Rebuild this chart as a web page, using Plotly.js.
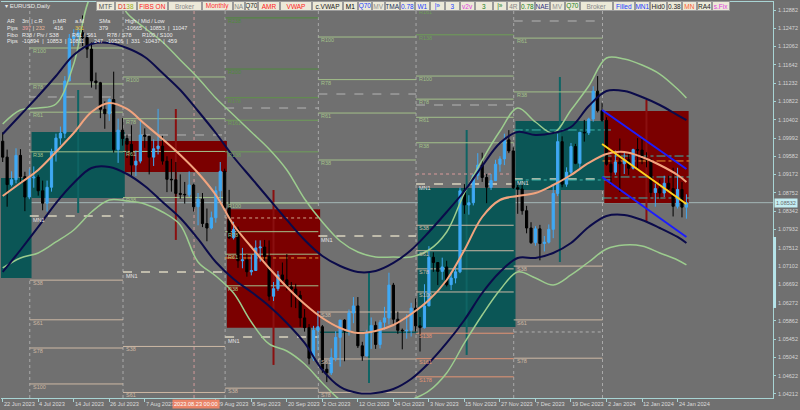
<!DOCTYPE html>
<html><head><meta charset="utf-8">
<script src="https://cdn.plot.ly/plotly-3.0.1.min.js"></script>
<style>html,body{margin:0;padding:0;background:#707070;}#chart{width:800px;height:410px;}</style>
</head><body><div id="chart"></div>
<script>
// ---------------- DATA ----------------
const dates = [
'2023-06-22','2023-06-23','2023-06-26','2023-06-27','2023-06-28','2023-06-29','2023-06-30',
'2023-07-03','2023-07-04','2023-07-05','2023-07-06','2023-07-07','2023-07-10','2023-07-11','2023-07-12','2023-07-13','2023-07-14','2023-07-17','2023-07-18','2023-07-19','2023-07-20','2023-07-21','2023-07-24','2023-07-25','2023-07-26','2023-07-27','2023-07-28','2023-07-31',
'2023-08-01','2023-08-02','2023-08-03','2023-08-04','2023-08-07','2023-08-08','2023-08-09','2023-08-10','2023-08-11','2023-08-14','2023-08-15','2023-08-16','2023-08-17','2023-08-18','2023-08-21','2023-08-22','2023-08-23','2023-08-24','2023-08-25','2023-08-28','2023-08-29','2023-08-30','2023-08-31',
'2023-09-01','2023-09-04','2023-09-05','2023-09-06','2023-09-07','2023-09-08','2023-09-11','2023-09-12','2023-09-13','2023-09-14','2023-09-15','2023-09-18','2023-09-19','2023-09-20','2023-09-21','2023-09-22','2023-09-25','2023-09-26','2023-09-27','2023-09-28','2023-09-29',
'2023-10-02','2023-10-03','2023-10-04','2023-10-05','2023-10-06','2023-10-09','2023-10-10','2023-10-11','2023-10-12','2023-10-13','2023-10-16','2023-10-17','2023-10-18','2023-10-19','2023-10-20','2023-10-23','2023-10-24','2023-10-25','2023-10-26','2023-10-27','2023-10-30','2023-10-31',
'2023-11-01','2023-11-02','2023-11-03','2023-11-06','2023-11-07','2023-11-08','2023-11-09','2023-11-10','2023-11-13','2023-11-14','2023-11-15','2023-11-16','2023-11-17','2023-11-20','2023-11-21','2023-11-22','2023-11-23','2023-11-24','2023-11-27','2023-11-28','2023-11-29','2023-11-30',
'2023-12-01','2023-12-04','2023-12-05','2023-12-06','2023-12-07','2023-12-08','2023-12-11','2023-12-12','2023-12-13','2023-12-14','2023-12-15','2023-12-18','2023-12-19','2023-12-20','2023-12-21','2023-12-22','2023-12-26','2023-12-27','2023-12-28','2023-12-29',
'2024-01-02','2024-01-03','2024-01-04','2024-01-05','2024-01-08','2024-01-09','2024-01-10','2024-01-11','2024-01-12','2024-01-15','2024-01-16','2024-01-17','2024-01-18','2024-01-19','2024-01-22','2024-01-23','2024-01-24','2024-01-25','2024-01-26'];

const open = [
1.0992,1.0956,1.0894,1.0905,1.0960,1.0912,1.0866,
1.0909,1.0911,1.0880,1.0852,1.0888,1.0968,1.0999,1.1010,1.1128,1.1224,1.1229,1.1237,1.1226,1.1200,1.1128,1.1124,1.1064,1.1054,1.1086,1.0973,1.1017,
1.0998,1.0985,1.0938,1.0947,1.1006,1.1003,1.0956,1.0975,1.0981,1.0947,1.0906,1.0905,1.0874,1.0872,1.0871,1.0893,1.0844,1.0861,1.0806,1.0796,1.0819,1.0880,1.0924,
1.0842,1.0774,1.0793,1.0722,1.0724,1.0697,1.0700,1.0751,1.0753,1.0732,1.0642,1.0659,1.0690,1.0679,1.0663,1.0658,1.0644,1.0593,1.0571,1.0502,1.0565,
1.0573,1.0477,1.0469,1.0503,1.0549,1.0588,1.0563,1.0604,1.0620,1.0530,1.0507,1.0561,1.0576,1.0533,1.0583,1.0593,1.0667,1.0590,1.0565,1.0564,1.0565,1.0615,
1.0575,1.0571,1.0620,1.0730,1.0718,1.0698,1.0708,1.0668,1.0683,1.0697,1.0880,1.0848,1.0853,1.0915,1.0938,1.0910,1.0888,1.0903,1.0940,1.0952,1.0995,1.0970,
1.0887,1.0884,1.0835,1.0796,1.0763,1.0794,1.0761,1.0764,1.0793,1.0874,1.0991,1.0895,1.0922,1.0980,1.0942,1.1012,1.1011,1.1042,1.1105,1.1061,
1.1039,1.0940,1.0922,1.0945,1.0941,1.0950,1.0931,1.0973,1.0972,1.0951,1.0950,1.0876,1.0885,1.0875,1.0897,1.0885,1.0845,1.0883,1.0843];
const high = [
1.1012,1.0973,1.0924,1.0976,1.0974,1.0923,1.0930,
1.0935,1.0916,1.0903,1.0903,1.0975,1.1009,1.1025,1.1139,1.1234,1.1245,1.1249,1.1276,1.1232,1.1215,1.1147,1.1126,1.1082,1.1089,1.1149,1.1043,1.1044,
1.1007,1.1028,1.0971,1.1042,1.1021,1.1004,1.0996,1.1065,1.1004,1.0958,1.0952,1.0945,1.0917,1.0900,1.0924,1.0896,1.0875,1.0875,1.0840,1.0833,1.0890,1.0945,1.0930,
1.0882,1.0810,1.0799,1.0751,1.0737,1.0735,1.0768,1.0768,1.0769,1.0768,1.0674,1.0699,1.0718,1.0737,1.0674,1.0670,1.0654,1.0613,1.0579,1.0575,1.0609,
1.0577,1.0490,1.0524,1.0563,1.0588,1.0590,1.0612,1.0640,1.0640,1.0539,1.0566,1.0594,1.0585,1.0588,1.0618,1.0695,1.0672,1.0607,1.0569,1.0601,1.0627,1.0637,
1.0595,1.0669,1.0755,1.0741,1.0718,1.0729,1.0722,1.0696,1.0712,1.0887,1.0895,1.0870,1.0917,1.0965,1.0966,1.0918,1.0918,1.0950,1.0958,1.1009,1.1017,1.0978,
1.0897,1.0894,1.0846,1.0809,1.0800,1.0803,1.0778,1.0804,1.0895,1.1009,1.1003,1.0933,1.0988,1.0986,1.1013,1.1040,1.1045,1.1116,1.1139,1.1079,
1.1046,1.0955,1.0971,1.0998,1.0969,1.0967,1.0975,1.0999,1.0998,1.0967,1.0953,1.0896,1.0905,1.0914,1.0914,1.0932,1.0932,1.0900,1.0872];
const low = [
1.0945,1.0844,1.0890,1.0897,1.0897,1.0834,1.0861,
1.0887,1.0869,1.0836,1.0833,1.0878,1.0946,1.0984,1.0999,1.1127,1.1207,1.1209,1.1207,1.1180,1.1113,1.1109,1.1044,1.1020,1.1038,1.0966,1.0943,1.0982,
1.0954,1.0912,1.0913,1.0942,1.0977,1.0917,1.0936,1.0962,1.0939,1.0877,1.0878,1.0867,1.0862,1.0851,1.0866,1.0833,1.0802,1.0798,1.0766,1.0793,1.0808,1.0853,1.0833,
1.0771,1.0770,1.0706,1.0705,1.0686,1.0689,1.0699,1.0720,1.0715,1.0632,1.0631,1.0654,1.0674,1.0655,1.0617,1.0615,1.0573,1.0562,1.0488,1.0496,1.0520,
1.0469,1.0448,1.0464,1.0495,1.0483,1.0495,1.0553,1.0581,1.0525,1.0496,1.0506,1.0523,1.0523,1.0524,1.0566,1.0578,1.0576,1.0557,1.0522,1.0546,1.0551,1.0562,
1.0517,1.0569,1.0620,1.0697,1.0667,1.0679,1.0664,1.0656,1.0671,1.0694,1.0828,1.0826,1.0847,1.0905,1.0900,1.0852,1.0882,1.0902,1.0923,1.0938,1.0965,1.0884,
1.0828,1.0826,1.0784,1.0760,1.0756,1.0723,1.0743,1.0761,1.0773,1.0868,1.0888,1.0889,1.0915,1.0940,1.0932,1.0991,1.1006,1.1036,1.1057,1.1036,
1.0937,1.0893,1.0916,1.0877,1.0918,1.0916,1.0928,1.0929,1.0940,1.0933,1.0866,1.0844,1.0862,1.0866,1.0878,1.0822,1.0840,1.0820,1.0817];
const close = [
1.0956,1.0894,1.0905,1.0960,1.0912,1.0866,1.0909,
1.0911,1.0880,1.0852,1.0888,1.0968,1.0999,1.1010,1.1128,1.1224,1.1229,1.1237,1.1226,1.1200,1.1128,1.1124,1.1064,1.1054,1.1086,1.0973,1.1017,1.0998,
1.0985,1.0938,1.0947,1.1006,1.1003,1.0956,1.0975,1.0981,1.0947,1.0906,1.0905,1.0874,1.0872,1.0871,1.0893,1.0844,1.0861,1.0806,1.0796,1.0819,1.0880,1.0924,1.0842,
1.0774,1.0793,1.0722,1.0724,1.0697,1.0700,1.0751,1.0753,1.0732,1.0642,1.0659,1.0690,1.0679,1.0663,1.0658,1.0644,1.0593,1.0571,1.0502,1.0565,1.0573,
1.0477,1.0469,1.0503,1.0549,1.0588,1.0563,1.0604,1.0620,1.0530,1.0507,1.0561,1.0576,1.0533,1.0583,1.0593,1.0667,1.0590,1.0565,1.0564,1.0565,1.0615,1.0575,
1.0571,1.0620,1.0730,1.0718,1.0698,1.0708,1.0668,1.0683,1.0697,1.0880,1.0848,1.0853,1.0915,1.0938,1.0910,1.0888,1.0903,1.0940,1.0952,1.0995,1.0970,1.0887,
1.0884,1.0835,1.0796,1.0763,1.0794,1.0761,1.0764,1.0793,1.0874,1.0991,1.0895,1.0922,1.0980,1.0942,1.1012,1.1011,1.1042,1.1105,1.1061,1.1039,
1.0940,1.0922,1.0945,1.0941,1.0950,1.0931,1.0973,1.0972,1.0951,1.0950,1.0876,1.0885,1.0875,1.0897,1.0885,1.0845,1.0883,1.0843,1.08532];

const bandDates = ['2023-06-22','2023-06-28','2023-07-04','2023-07-10','2023-07-14','2023-07-20','2023-07-26','2023-08-01','2023-08-07','2023-08-11','2023-08-17','2023-08-23','2023-08-29','2023-09-04','2023-09-08','2023-09-14','2023-09-20','2023-09-26','2023-10-02','2023-10-06','2023-10-12','2023-10-18','2023-10-24','2023-10-30','2023-11-03','2023-11-09','2023-11-15','2023-11-21','2023-11-27','2023-12-01','2023-12-07','2023-12-13','2023-12-19','2023-12-26','2024-01-02','2024-01-08','2024-01-12','2024-01-18','2024-01-24','2024-01-26'];
const navyUpper = [1.10082,1.10511,1.10940,1.11392,1.11866,1.12114,1.12137,1.12024,1.11821,1.11460,1.11076,1.10602,1.10105,1.09563,1.09089,1.08615,1.08141,1.07689,1.07328,1.07102,1.06967,1.06989,1.07170,1.07463,1.07870,1.08321,1.08795,1.09360,1.09879,1.10128,1.10060,1.10105,1.10240,1.10715,1.11053,1.11053,1.10918,1.10737,1.10511,1.10398];
const navyLower = [1.06967,1.07463,1.07983,1.08524,1.08976,1.09315,1.09337,1.09179,1.08908,1.08547,1.08186,1.07712,1.07192,1.06809,1.06515,1.06199,1.05815,1.05364,1.04754,1.04370,1.04235,1.04235,1.04325,1.04551,1.04912,1.05364,1.05883,1.06492,1.06967,1.07283,1.07283,1.07396,1.07621,1.07983,1.08231,1.08254,1.08141,1.07960,1.07757,1.07621];
const maLine = [1.08683,1.08976,1.09270,1.09676,1.10105,1.10579,1.10782,1.10647,1.10308,1.09969,1.09608,1.09202,1.08705,1.08028,1.07531,1.07057,1.06628,1.06244,1.05928,1.05702,1.05589,1.05635,1.05770,1.06018,1.06334,1.06786,1.07463,1.08208,1.08592,1.08683,1.08750,1.08931,1.09157,1.09428,1.09631,1.09676,1.09563,1.09382,1.09157,1.08999];
const greenUpper = [1.10308,1.10624,1.10669,1.10760,1.11663,1.13221,1.13514,1.12814,1.12476,1.12160,1.11753,1.11347,1.10895,1.10511,1.10128,1.09744,1.09270,1.08615,1.08096,1.07667,1.07418,1.07305,1.07305,1.07305,1.07463,1.07870,1.08750,1.09495,1.10150,1.10669,1.10353,1.10105,1.10624,1.11166,1.11798,1.11776,1.11640,1.11437,1.11098,1.10895];
const greenLower = [1.07057,1.07283,1.07396,1.07644,1.07915,1.08321,1.08592,1.08570,1.08502,1.08321,1.08028,1.07192,1.06876,1.06492,1.05838,1.05341,1.05183,1.04889,1.04460,1.04077,1.03851,1.03806,1.03919,1.04077,1.04280,1.04686,1.05364,1.05996,1.06560,1.06967,1.06831,1.06673,1.06899,1.07192,1.07486,1.07576,1.07554,1.07396,1.07238,1.07125];

// monthly candles (boxes)
const mFirst = ['2023-06-01','2023-07-03','2023-08-01','2023-09-01','2023-10-02','2023-11-01','2023-12-01','2024-01-02'];
const mLast  = ['2023-06-30','2023-07-31','2023-08-31','2023-09-29','2023-10-31','2023-11-30','2023-12-29','2024-01-26'];
const mOpen  = [1.06831,1.08637,1.09924,1.08382,1.05590,1.05725,1.08818,1.10602];
const mClose = [1.09089,1.10127,1.09224,1.05709,1.05625,1.08863,1.10376,1.08524];
const mHigh  = [1.10120,1.11076,1.10646,1.08818,1.06944,1.10173,1.11369,1.10850];
const mLow   = [1.06620,1.08300,1.07690,1.04868,1.04460,1.05093,1.07192,1.08095];

// monthly fibonacci levels
const pivStart = ['2023-07-03','2023-08-01','2023-09-01','2023-10-02','2023-11-01','2023-12-01'];
const pivEnd   = ['2023-08-01','2023-09-01','2023-10-02','2023-11-01','2023-12-01','2024-01-02'];
const pivBase  = [1.08231,1.06967,1.05499,1.07779,1.08953,1.09066];
const pivRange = [0.03793,0.04403,0.03025,0.04493,0.02438,0.05148];
const fibRatios = [0.382,0.618,0.786,1,1.382,1.618,1.786,2,2.382];
const fibTags = ['38','61','78','100','138','161','178','200','238'];
// extra monthly dashed / dotted levels
const dashLevel = [1.10918,1.10060,1.10669,1.10985,1.10737,1.12634];
const dotStart = ['2023-11-01','2023-09-01','2023-09-01','2023-12-01'];
const dotEnd   = ['2023-12-01','2023-10-02','2023-10-02','2024-01-02'];
const dotLevel = [1.09179,1.08186,1.07283,1.05612];
const dotColor = ['#d99a9a','#cfa58a','#e0902e','#b0b0b0'];

// regression channel (January)
const chanDates = ['2023-12-29','2024-01-26'];
const chanUpper = [1.10624,1.09292];
const chanMid   = [1.09857,1.08502];
const chanLower = [1.09112,1.07757];

// weekly dash-dot levels
const wkStart = ['2023-12-01','2023-12-01','2024-01-02','2024-01-02','2024-01-02','2024-01-02'];
const wkEnd   = ['2024-01-02','2024-01-02','2024-01-26','2024-01-26','2024-01-26','2024-01-26'];
const wkLevel = [1.10173,1.09044,1.09585,1.09473,1.09112,1.08637];
const wkKind  = ['t','t','t','o','t','t'];

const bidPrice = 1.08532;
const yTicks = [1.12882,1.12472,1.12062,1.11642,1.11232,1.10822,1.10402,1.09992,1.09582,1.09172,1.08752,1.08342,1.07932,1.07512,1.07102,1.06692,1.06272,1.05862,1.05452,1.05042,1.04622,1.04212];
const xLabelDates = ['2023-06-22','2023-07-04','2023-07-14','2023-07-26','2023-08-07','2023-08-29','2023-09-08','2023-09-20','2023-10-02','2023-10-12','2023-10-24','2023-11-03','2023-11-15','2023-11-27','2023-12-07','2023-12-19','2024-01-02','2024-01-12','2024-01-24'];
const xLabelText = ['22 Jun 2023','4 Jul 2023','14 Jul 2023','26 Jul 2023','7 Aug 2023','29 Aug 2023','8 Sep 2023','20 Sep 2023','2 Oct 2023','12 Oct 2023','24 Oct 2023','3 Nov 2023','15 Nov 2023','27 Nov 2023','7 Dec 2023','19 Dec 2023','2 Jan 2024','12 Jan 2024','24 Jan 2024'];
const cursorDate = '2023-08-23';
const cursorText = '2023.08.23 00:00';

// toolbar buttons
const btnText = ['MTF','D1<span style="color:#9ab020">38</span>','FIBS ON','Broker','Monthly','NA','Q70','AMR','VWAP','c.VWAP','M1','Q70','MV','TMA','0.78','W1','|»','3','v2v','3','|»','4R','0.78','NAE','MV','Q70','Broker','Filled','MN1','Hid0','0.38','MN','RA4','s.Fix'];
const btnColor = ['#505050','#e02020','#ff2020','#888888','#ff3030','#888888','#202020','#ff2020','#ff2020','#202020','#000000','#2040ff','#909090','#203060','#2040ff','#2040ff','#2040ff','#2040ff','#e040e0','#208020','#208020','#888888','#208020','#303080','#909090','#208020','#888888','#2040ff','#2040ff','#202020','#202020','#ff6030','#202020','#e040e0'];
const btnEdges = [96,115,137,168,202,233,245,258,280,312,343,358,372,385,400,415,430,445,460,475,493,507,520,535,550,565,580,613,635,650,667,682,697,712,730];

// ---------------- DRAW ----------------
const L = 1, T = 2, PW = 772, PH = 396;
const pxX = x => (x - L) / PW;
const pxY = y => (T + PH - y) / PH;
const ix = d => dates.indexOf(d);
const Y0 = 1.04121, Y1 = 1.13063;
const FONT = '"Liberation Sans", Arial, sans-serif';

const traces = [];
function curve(y, color, width){
  traces.push({type:'scatter', mode:'lines', x:bandDates, y:y, hoverinfo:'skip',
    line:{color:color, width:width, shape:'spline', smoothing:1}});
}
curve(greenUpper, '#9ccc8e', 1.5);
curve(greenLower, '#9ccc8e', 1.5);
curve(navyUpper, '#0b0b4a', 2);
curve(navyLower, '#0b0b4a', 2);
curve(maLine, '#f2a47e', 2);
traces.push({type:'candlestick', x:dates, open:open, high:high, low:low, close:close,
  hoverinfo:'skip', whiskerwidth:0,
  increasing:{line:{color:'#3fa9f5', width:1}, fillcolor:'#3fa9f5'},
  decreasing:{line:{color:'#000000', width:1}, fillcolor:'#000000'}});
function seg(xs, ys, color, width){
  traces.push({type:'scatter', mode:'lines', x:xs, y:ys, hoverinfo:'skip', line:{color:color, width:width}});
}
seg(chanDates, chanUpper, '#1c1cff', 2);
seg(chanDates, chanLower, '#1c1cff', 2);
seg(chanDates, chanMid, '#ffd21e', 2);

const shapes = [];
const ann = [];
const hline = (x0, x1, v, color, width, dash) => shapes.push({type:'line', layer:'below', xref:'x', yref:'y',
  x0:x0, x1:x1, y0:v, y1:v, line:{color:color, width:width, dash:dash||'solid'}});

// monthly boxes + wicks
for (let m = 0; m < mFirst.length; m++){
  let a = ix(mFirst[m]); if (a < 0) a = -12;
  const b = ix(mLast[m]);
  const up = mClose[m] >= mOpen[m];
  const col = up ? '#0b5656' : '#7b0000';
  shapes.push({type:'rect', layer:'below', xref:'x', yref:'y', x0:a-0.5, x1:b+0.5,
    y0:Math.min(mOpen[m],mClose[m]), y1:Math.max(mOpen[m],mClose[m]),
    fillcolor:col, line:{width:0}});
  const c = (a + b) / 2;
  shapes.push({type:'line', layer:'below', xref:'x', yref:'y', x0:c, x1:c, y0:mLow[m], y1:mHigh[m],
    line:{color: up ? '#0f6464' : '#8a1010', width:2}});
}
// month separators
for (let m = 1; m < mFirst.length; m++){
  const a = ix(mFirst[m]) - 0.9;
  shapes.push({type:'line', layer:'below', xref:'x', yref:'paper', x0:a, x1:a, y0:0, y1:1,
    line:{color:'#a9a9a9', width:1, dash:'dot'}});
}
// cursor line
shapes.push({type:'line', layer:'below', xref:'x', yref:'paper', x0:ix(cursorDate)-0.9, x1:ix(cursorDate)-0.9, y0:0, y1:1,
  line:{color:'#d29a9a', width:1, dash:'dot'}});

// fib levels
const rCol = ['#a3c08a','#a3c08a','#a3c08a','#a3c08a','#6e9e58','#6e9e58','#5f9249','#4f8a3c','#4f8a3c'];
const sCol = ['#cdb8a4','#cdb8a4','#cdb8a4','#cdb8a4','#e39474','#e39474','#e39474','#e39474','#e39474'];
for (let m = 0; m < pivBase.length; m++){
  const a = ix(pivStart[m]) - 0.9, b = ix(pivEnd[m]) - 0.9;
  const base = pivBase[m], R = pivRange[m];
  hline(a, b, base, '#d9d4bf', 1.5, 'dash');
  hline(a, b, dashLevel[m], '#b4b4b4', 1, 'dash');
  ann.push({xref:'x', yref:'y', x:a+0.2, y:base, text:'MN1', showarrow:false, xanchor:'left', yanchor:'middle', yshift:-4,
    font:{family:FONT, size:5.5, color:'#e4e4e4'}});
  for (let k = 0; k < fibRatios.length; k++){
    [[1,'R',rCol[k]],[-1,'S',sCol[k]]].forEach(([sg,nm,col]) => {
      const v = base + sg * fibRatios[k] * R;
      if (v < Y0 + 0.0003 || v > Y1 - 0.0003) return;
      hline(a, b, v, col, 1);
      ann.push({xref:'x', yref:'y', x:a+0.2, y:v, text:nm+fibTags[k], showarrow:false, xanchor:'left', yanchor:'middle', yshift:-3,
        font:{family:FONT, size:5.5, color:col}});
    });
  }
}
for (let k = 0; k < dotLevel.length; k++){
  hline(ix(dotStart[k])-0.9, ix(dotEnd[k])-0.9, dotLevel[k], dotColor[k], 1, k===2 ? 'dashdot' : 'dot');
}
// weekly dash-dot levels
for (let k = 0; k < wkLevel.length; k++){
  hline(ix(wkStart[k])-0.9, ix(wkEnd[k])+1, wkLevel[k], wkKind[k]==='o' ? '#e6962e' : '#3cb4aa', 1, 'dashdot');
}
// bid line
shapes.push({type:'line', layer:'below', xref:'paper', yref:'y', x0:0, x1:1, y0:bidPrice, y1:bidPrice, line:{color:'#a3b6b6', width:1}});
// right axis marker
shapes.push({type:'line', xref:'paper', yref:'y', x0:1.002, x1:1.002, y0:1.06154, y1:1.07757, line:{color:'#b6e4ea', width:3}});

// date labels
xLabelDates.forEach((d,k) => {
  ann.push({xref:'x', yref:'paper', x:ix(d), y:0, yanchor:'top', xanchor:'left', xshift:-1, yshift:-1, text:xLabelText[k], showarrow:false,
    font:{family:FONT, size:5.6, color:'#dcdcdc'}});
});
ann.push({xref:'x', yref:'paper', x:ix(cursorDate)-0.9, y:0, yanchor:'top', xanchor:'center', xshift:2, yshift:-1, text:cursorText, showarrow:false,
  bgcolor:'#ea8468', borderpad:1, font:{family:FONT, size:5.6, color:'#ffffff'}});
// bid label
ann.push({xref:'paper', yref:'y', x:1, y:bidPrice, xanchor:'left', xshift:1, yanchor:'middle', text:'1.08532', showarrow:false,
  bgcolor:'#c4eef2', borderpad:1, font:{family:FONT, size:5.5, color:'#6a6a6a'}});

// toolbar
for (let k = 0; k < btnText.length; k++){
  const x0 = btnEdges[k], x1 = btnEdges[k+1];
  ann.push({xref:'paper', yref:'paper', x:pxX(x0), y:pxY(1.5), xanchor:'left', yanchor:'top', text:btnText[k], showarrow:false,
    width:x1-x0-2, height:8, borderpad:0, bgcolor:'#ece9d8', bordercolor:'#9a9a9a', borderwidth:1, align:'center',
    font:{family:FONT, size:6.5, color:btnColor[k]}});
}
// title + info text
function txt(x, y, s, col, sz){
  ann.push({xref:'paper', yref:'paper', x:pxX(x), y:pxY(y), xanchor:'left', yanchor:'middle', text:s, showarrow:false,
    font:{family:FONT, size:sz||5.5, color:col||'#ececec'}});
}
txt(3, 5.5, '▾ EURUSD,Daily', '#e8e8e8', 6);
txt(5, 21, 'AR'); txt(20, 21, '3m | c.R'); txt(51, 21, 'p.MR'); txt(73, 21, 'a.M'); txt(97, 21, 'SMa'); txt(123, 21, 'High / Mid / Low');
txt(5, 27.5, 'Pips'); txt(20, 27.5, '<span style="color:#f0a0a0">397</span> | <span style="color:#e8b898">232</span>');
txt(52, 27.5, '416'); txt(73, 27.5, '301', '#e8c040'); txt(97, 27.5, '379'); txt(123, 27.5, '-10665  |  10853  |  11047');
txt(5, 35, 'Fibo'); txt(20, 35, 'R38 / Piv / S38'); txt(70, 35, 'R61 / S61'); txt(105, 35, 'R78 / S78'); txt(140, 35, 'R100 / S100');
txt(5, 41.5, 'Pips'); txt(20, 41.5, '-10894  |  10853  |  10811'); txt(92, 41.5, '247  -10526  |  331  -10437  |  459');

const layout = {
  width:800, height:410, margin:{l:L, r:800-L-PW, t:T, b:410-T-PH},
  paper_bgcolor:'#707070', plot_bgcolor:'#707070', showlegend:false,
  xaxis:{type:'category', categoryorder:'array', categoryarray:dates, range:[-0.38,173.5],
    rangeslider:{visible:false}, showgrid:false, zeroline:false, showline:true, mirror:true, linecolor:'#a8d4d4', linewidth:1,
    ticks:'outside', ticklen:3, tickcolor:'#a8d4d4', tickvals:xLabelDates, showticklabels:false, fixedrange:true},
  yaxis:{side:'right', range:[Y0,Y1], tickvals:yTicks, ticktext:yTicks.map(v=>v.toFixed(5)),
    showgrid:false, zeroline:false, showline:true, linecolor:'#a8d4d4', linewidth:1,
    ticks:'outside', ticklen:2, tickcolor:'#a8d4d4', ticklabelstandoff:1,
    tickfont:{family:FONT, size:5.5, color:'#d6d6d6'}, fixedrange:true},
  shapes:shapes, annotations:ann
};
Plotly.newPlot('chart', traces, layout, {staticPlot:true, displayModeBar:false});
</script>
</body></html>
